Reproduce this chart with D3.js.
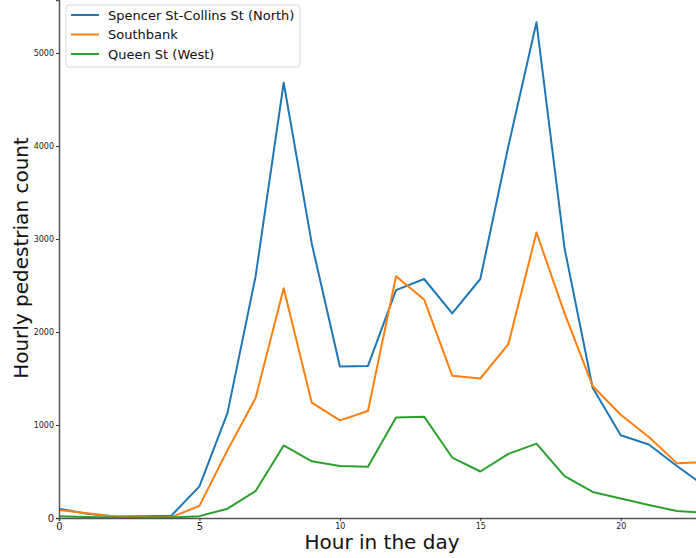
<!DOCTYPE html>
<html>
<head>
<meta charset="utf-8">
<script src="https://cdn.jsdelivr.net/npm/d3@7"></script>
<style>
  body { margin: 0; background: #fff; }
  svg { display: block; font-family: "DejaVu Sans", sans-serif; }
</style>
</head>
<body>
<svg id="chart"></svg>
<script>
const width = 696;
const height = 558;

const hours = d3.range(0, 24);
const seriesNames = ["Spencer St-Collins St (North)", "Southbank", "Queen St (West)"];
const colors = ["#1f77b4", "#ff7f0e", "#2ca02c"];

const spencer = [100, 45, 15, 20, 25, 340, 1130, 2600, 4680, 2950, 1630, 1635,
  2450, 2570, 2200, 2570, 4000, 5330, 2900, 1400, 890, 790, 560, 340];
const southbank = [85, 50, 15, 10, 10, 130, 730, 1290, 2470, 1240, 1050, 1150,
  2600, 2350, 1530, 1500, 1870, 3070, 2200, 1420, 1110, 870, 590, 600];
const queen = [20, 10, 5, 5, 5, 20, 100, 290, 780, 610, 560, 550,
  1080, 1090, 650, 500, 690, 800, 450, 280, 210, 140, 75, 55];

const xTicks = [0, 5, 10, 15, 20];
const yTicks = [0, 1000, 2000, 3000, 4000, 5000];

const margin = { top: 0, right: -9, bottom: 40, left: 59 };

const svg = d3.select("#chart")
  .attr("width", width)
  .attr("height", height);

const x = d3.scaleLinear()
  .domain([0, 23])
  .range([margin.left, width - margin.right]);

const y = d3.scaleLinear()
  .domain([0, 5570])
  .range([height - margin.bottom, margin.top]);

svg.append("clipPath")
  .attr("id", "plot-clip")
  .append("rect")
  .attr("x", margin.left)
  .attr("y", 0)
  .attr("width", width - margin.left)
  .attr("height", height - margin.bottom);

const line = d3.line()
  .x((d, i) => x(hours[i]))
  .y(d => y(d));

[spencer, southbank, queen].forEach((vals, i) => {
  svg.append("path")
    .datum(vals)
    .attr("clip-path", "url(#plot-clip)")
    .attr("fill", "none")
    .attr("stroke", colors[i])
    .attr("stroke-width", 2)
    .attr("stroke-linejoin", "round")
    .attr("d", line);
});

// axes
const xAxis = svg.append("g")
  .attr("transform", `translate(0,${height - margin.bottom})`)
  .call(d3.axisBottom(x).tickValues(xTicks).tickFormat(d3.format("d")).tickSize(3).tickPadding(2));

const yAxis = svg.append("g")
  .attr("transform", `translate(${margin.left},0)`)
  .call(d3.axisLeft(y).tickValues(yTicks).tickFormat(d3.format("d")).tickSize(3).tickPadding(2));

[xAxis, yAxis].forEach(g => {
  g.select(".domain").attr("stroke", "#555").attr("stroke-width", 1.5);
  g.selectAll(".tick line").attr("stroke", "#333");
  g.selectAll(".tick text")
    .attr("fill", "#222")
    .style("font-family", "DejaVu Sans")
    .style("font-size", d => d === 0 || d === 5 ? "10px" : "8px");
});

svg.append("text")
  .attr("x", 382)
  .attr("y", 549)
  .attr("text-anchor", "middle")
  .style("font-size", "20px")
  .attr("fill", "#111")
  .text("Hour in the day");

svg.append("text")
  .attr("transform", "translate(28,258) rotate(-90)")
  .attr("text-anchor", "middle")
  .style("font-size", "20px")
  .attr("fill", "#111")
  .text("Hourly pedestrian count");

// legend
const legend = svg.append("g").attr("transform", "translate(66,5)");
legend.append("rect")
  .attr("width", 234)
  .attr("height", 62)
  .attr("rx", 3)
  .attr("fill", "#fff")
  .attr("fill-opacity", 0.8)
  .attr("stroke", "#d8d8d8");

seriesNames.forEach((name, i) => {
  const row = legend.append("g").attr("transform", `translate(0,${10 + i * 19.5})`);
  row.append("line")
    .attr("x1", 5).attr("x2", 33)
    .attr("stroke", colors[i])
    .attr("stroke-width", 2);
  row.append("text")
    .attr("x", 42)
    .attr("dy", "0.35em")
    .style("font-size", "13px")
    .attr("fill", "#111")
    .text(name);
});
</script>
</body>
</html>
